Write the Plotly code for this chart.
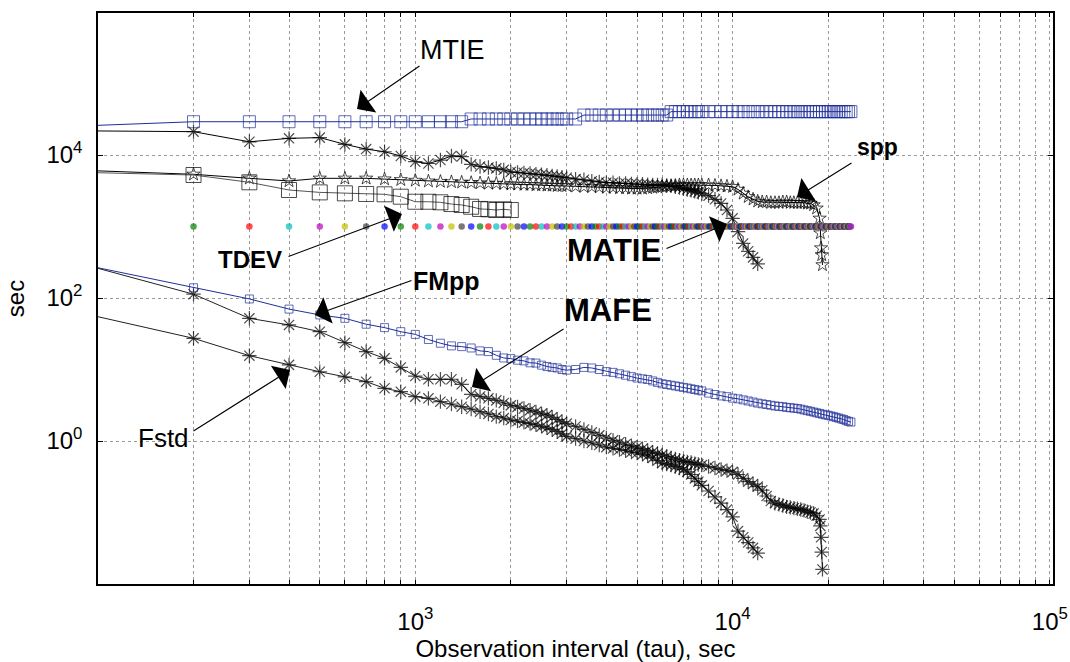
import plotly.graph_objects as go

# ---------------- data ----------------
tau = [100, 200, 300, 400, 500, 600, 700, 800, 900, 1000,
       1100, 1200, 1300, 1400, 1500, 1600, 1700, 1800, 1900, 2000,
       2100, 2200, 2300, 2400, 2500, 2600, 2700, 2800, 2900, 3000,
       3200, 3400, 3600, 3800, 4000, 4200, 4400, 4600, 4800, 5000,
       5200, 5400, 5600, 5800, 6000, 6200, 6400, 6600, 6800, 7000,
       7200, 7400, 7600, 7800, 8000,
       8400, 8800, 9200, 9600, 10000, 10400, 10800, 11200, 11600, 12000,
       12400, 12800, 13200, 13600, 14000, 14400, 14800, 15200, 15600, 16000,
       16400, 16800, 17200, 17600, 18000, 18400, 18800, 19200, 19600, 20000,
       20400, 20800, 21200, 21600, 22000, 22400, 22800, 23200, 23600]

mtie = [2.6e4, 2.92e4, 2.92e4, 2.92e4, 2.92e4, 2.92e4, 2.92e4, 2.92e4, 2.92e4, 2.92e4,
        2.92e4, 2.92e4, 2.92e4, 2.92e4, 3.19e4, 3.19e4, 3.19e4, 3.19e4, 3.19e4, 3.19e4,
        3.19e4, 3.19e4, 3.19e4, 3.19e4, 3.19e4, 3.19e4, 3.19e4, 3.19e4, 3.19e4, 3.19e4,
        3.19e4, 3.62e4, 3.62e4, 3.62e4, 3.62e4, 3.62e4, 3.62e4, 3.62e4, 3.62e4, 3.62e4,
        3.62e4, 3.62e4, 3.62e4, 3.62e4, 3.62e4, 3.62e4, 4.04e4, 4.04e4, 4.04e4, 4.04e4,
        4.04e4, 4.04e4, 4.04e4, 4.04e4, 4.04e4,
        4.04e4, 4.04e4, 4.04e4, 4.04e4, 4.04e4, 4.04e4, 4.04e4, 4.04e4, 4.04e4, 4.04e4,
        4.04e4, 4.04e4, 4.04e4, 4.04e4, 4.04e4, 4.04e4, 4.04e4, 4.04e4, 4.04e4, 4.04e4,
        4.04e4, 4.04e4, 4.04e4, 4.04e4, 4.04e4, 4.04e4, 4.04e4, 4.04e4, 4.04e4, 4.04e4,
        4.04e4, 4.04e4, 4.04e4, 4.04e4, 4.04e4, 4.04e4, 4.04e4, 4.04e4, 4.04e4]

upper_ast = [2.17e4, 2.12e4, 1.53e4, 1.71e4, 1.75e4, 1.41e4, 1.21e4, 1.11e4, 9.7e3, 8.06e3,
             7.6e3, 8.5e3, 9.7e3, 9.5e3, 7.4e3, 6.9e3, 6.7e3, 6.5e3, 6.2e3, 5.8e3,
             5.7e3, 5.6e3, 5.5e3, 5.4e3, 5.3e3, 5.2e3, 5.1e3, 5.0e3, 4.9e3, 4.8e3,
             4.6e3, 4.5e3, 4.3e3, 4.2e3, 4.1e3, 4.1e3, 4.0e3, 4.0e3, 3.95e3, 3.9e3,
             3.9e3, 3.85e3, 3.8e3, 3.8e3, 3.8e3, 3.75e3, 3.7e3, 3.6e3, 3.5e3, 3.4e3,
             3.3e3, 3.2e3, 3.1e3, 3.0e3, 2.9e3,
             2.7e3, 2.4e3, 2.1e3, 1.7e3, 1.3e3, 850, 580, 450, 370, 300]

spp = [6.0e3, 5.37e3, 4.72e3, 4.33e3, 4.72e3, 4.72e3, 4.72e3, 4.6e3, 4.5e3, 4.4e3,
       4.3e3, 4.25e3, 4.2e3, 4.15e3, 4.1e3, 4.05e3, 4.0e3, 4.0e3, 3.95e3, 3.9e3,
       3.9e3, 3.85e3, 3.85e3, 3.8e3, 3.8e3, 3.75e3, 3.75e3, 3.7e3, 3.7e3, 3.7e3,
       3.65e3, 3.6e3, 3.6e3, 3.55e3, 3.5e3, 3.5e3, 3.45e3, 3.45e3, 3.4e3, 3.4e3,
       3.4e3, 3.45e3, 3.5e3, 3.55e3, 3.6e3, 3.65e3, 3.7e3, 3.75e3, 3.8e3, 3.8e3,
       3.8e3, 3.8e3, 3.8e3, 3.8e3, 3.8e3,
       3.8e3, 3.75e3, 3.7e3, 3.65e3, 3.6e3, 3.3e3, 2.9e3, 2.6e3, 2.4e3, 2.25e3,
       2.2e3, 2.2e3, 2.15e3, 2.15e3, 2.15e3, 2.2e3, 2.2e3, 2.15e3, 2.15e3, 2.15e3,
       2.15e3, 2.15e3, 2.1e3, 2.1e3, 2.0e3, 1.8e3, 1.3e3]
tail_tau = [18900, 19000, 19100, 19200]
spp_tail = [810, 500, 400, 290]

tdev = [5.65e3, 5.25e3, 4.15e3, 3.24e3, 3.0e3, 2.91e3, 2.85e3, 2.82e3, 2.61e3, 2.22e3,
        2.22e3, 2.18e3, 2.06e3, 2.0e3, 1.89e3, 1.76e3, 1.74e3, 1.7e3, 1.74e3, 1.7e3]

fmpp = [265, 139, 97, 70, 58, 52, 43, 38.5, 33.8, 31,
        26.3, 23.3, 21.4, 20.9, 20.0, 18.2, 17.8, 15.8, 14.5, 14.2,
        13.5, 13.2, 12.4, 12.3, 11.5, 11.0, 10.7, 10.5, 10.0, 9.8,
        10.0, 10.7, 10.5, 10.0, 9.33, 9.12, 8.71, 8.32, 7.94, 7.59,
        7.41, 7.24, 6.92, 6.61, 6.31, 6.17, 6.03, 5.89, 5.75, 5.62,
        5.50, 5.37, 5.25, 5.13, 5.01,
        4.68, 4.47, 4.27, 4.17, 3.98, 3.89, 3.76, 3.63, 3.51, 3.39,
        3.31, 3.24, 3.16, 3.09, 3.05, 3.02, 2.95, 2.92, 2.88, 2.85,
        2.79, 2.72, 2.66, 2.60, 2.54, 2.48, 2.43, 2.37, 2.32, 2.29,
        2.24, 2.19, 2.14, 2.09, 2.04, 2.00, 1.93, 1.88, 1.84]

mafe = [260, 113, 52, 42, 33.8, 23.7, 17.8, 14.3, 10.7, 8.1,
        7.3, 7.3, 7.3, 6.2, 4.5, 4.2, 3.95, 3.7, 3.4, 3.15,
        3.0, 2.85, 2.7, 2.55, 2.4, 2.3, 2.15, 2.0, 1.85, 1.75,
        1.6, 1.45, 1.32, 1.2, 1.1, 1.02, 0.96, 0.9, 0.86, 0.82,
        0.78, 0.74, 0.7, 0.67, 0.64, 0.61, 0.58, 0.56, 0.54, 0.52,
        0.51, 0.5, 0.48, 0.47, 0.46,
        0.44, 0.42, 0.4, 0.385, 0.37, 0.34, 0.3, 0.27, 0.25, 0.23,
        0.205, 0.17, 0.145, 0.135, 0.13, 0.125, 0.12, 0.118, 0.115, 0.113,
        0.11, 0.107, 0.103, 0.1, 0.097, 0.09, 0.08]
mafe_tail = [0.065, 0.045, 0.028, 0.016]

fstd = [54.7, 27.3, 15.6, 11.6, 9.3, 7.9, 6.76, 5.46, 4.9, 4.17,
        3.95, 3.55, 3.29, 3.02, 2.8, 2.57, 2.39, 2.19, 2.09, 1.97,
        1.9, 1.82, 1.75, 1.68, 1.6, 1.53, 1.45, 1.36, 1.26, 1.16,
        1.08, 1.0, 0.94, 0.88, 0.82, 0.79, 0.76, 0.73, 0.7, 0.68,
        0.65, 0.62, 0.58, 0.53, 0.49, 0.475, 0.46, 0.44, 0.42, 0.40,
        0.37, 0.34, 0.30, 0.27, 0.24,
        0.20, 0.165, 0.135, 0.11, 0.087, 0.055, 0.045, 0.038, 0.032, 0.027]

matie_tau = list(range(100, 23700, 100))
matie_level = 1000.0

x_tick_labels = {1e3: "10<sup>3</sup>", 1e4: "10<sup>4</sup>", 1e5: "10<sup>5</sup>"}
y_tick_labels = {1.0: "10<sup>0</sup>", 1e2: "10<sup>2</sup>", 1e4: "10<sup>4</sup>"}

# ---------------- layout geometry ----------------
W, H = 1070, 662
PL, PR, PT, PB = 98, 1053, 13, 584          # pixels of the plot area
XR = [2.0, 5.0098]
YR = [-2.0, 5.986]
FONT = "Liberation Sans, Arial, sans-serif"


def px_x(px):
    return XR[0] + (px - PL) / (PR - PL) * (XR[1] - XR[0])


def px_y(py):
    return YR[1] - (py - PT) / (PB - PT) * (YR[1] - YR[0])


def sizes(xs, s):
    return [0 if t <= 100 else s for t in xs]


fig = go.Figure()

BLUE = "#1f2f9a"
ast = dict(symbol="asterisk-open", color="black", line=dict(color="black", width=1.2))
star = dict(symbol="star-open", color="black", line=dict(color="black", width=1))

# lower black asterisk series
x_fstd = tau[:len(fstd)]
fig.add_trace(go.Scatter(x=x_fstd, y=fstd, mode="lines+markers",
                         line=dict(color="#222222", width=1),
                         marker=dict(size=sizes(x_fstd, 12), **ast)))
x_mafe = tau[:len(mafe)] + tail_tau
fig.add_trace(go.Scatter(x=x_mafe, y=mafe + mafe_tail, mode="lines+markers",
                         line=dict(color="#222222", width=1),
                         marker=dict(size=sizes(x_mafe, 12), **ast)))
# FMpp
fig.add_trace(go.Scatter(x=tau[:len(fmpp)], y=fmpp, mode="lines+markers",
                         line=dict(color=BLUE, width=1),
                         marker=dict(symbol="square-open", size=sizes(tau, 8),
                                     color=BLUE, line=dict(color=BLUE, width=1))))
# upper black series
x_ast = tau[:len(upper_ast)]
fig.add_trace(go.Scatter(x=x_ast, y=upper_ast, mode="lines+markers",
                         line=dict(color="black", width=1),
                         marker=dict(size=sizes(x_ast, 12), **ast)))
x_spp = tau[:len(spp)] + tail_tau
fig.add_trace(go.Scatter(x=x_spp, y=spp + spp_tail, mode="lines+markers",
                         line=dict(color="black", width=1),
                         marker=dict(size=sizes(x_spp, 10), **star)))
x_tdev = tau[:len(tdev)]
fig.add_trace(go.Scatter(x=x_tdev, y=tdev, mode="lines+markers",
                         line=dict(color="#555555", width=1),
                         marker=dict(symbol="square-open", size=sizes(x_tdev, 15),
                                     color="black", line=dict(color="black", width=1))))
# MTIE
fig.add_trace(go.Scatter(x=tau[:len(mtie)], y=mtie, mode="lines+markers",
                         line=dict(color=BLUE, width=1),
                         marker=dict(symbol="square-open", size=sizes(tau, 12),
                                     color=BLUE, line=dict(color=BLUE, width=1))))
# MATIE coloured dots
cycle = ["#0000ff", "#008000", "#ff0000", "#00bfbf", "#bf00bf", "#bfbf00", "#404040"]
fig.add_trace(go.Scatter(x=matie_tau, y=[matie_level] * len(matie_tau), mode="markers",
                         marker=dict(symbol="circle", size=sizes(matie_tau, 6.5),
                                     color=[cycle[i % 7] for i in range(len(matie_tau))],
                                     line=dict(width=0))))

# ---------------- annotations ----------------
arrows = [  # (tail px, tip px)
    ((421, 65), (357, 109)),   # MTIE
    ((853, 162), (797, 197)),  # spp
    ((287, 257), (402, 214)),  # TDEV
    ((413, 280), (315, 315)),  # FMpp
    ((665, 249), (727, 224)),  # MATIE
    ((565, 328), (472, 387)),  # MAFE
    ((192, 432), (290, 370)),  # Fstd
]
for (tx, ty), (hx, hy) in arrows:
    fig.add_annotation(x=px_x(hx), y=px_y(hy), xref="x", yref="y",
                       ax=tx - hx, ay=ty - hy, axref="pixel", ayref="pixel",
                       text="", showarrow=True, arrowhead=1, arrowsize=4.2,
                       arrowwidth=1.1, arrowcolor="black", standoff=0)

labels = [  # text, center px, size, bold
    ("MTIE", (452, 50), 27, False),
    ("spp", (877, 147), 23, True),
    ("TDEV", (250, 259), 24, True),
    ("FMpp", (446, 281), 25, True),
    ("MATIE", (614, 250), 31, True),
    ("MAFE", (608, 310), 31, True),
    ("Fstd", (163, 438), 26, False),
]
for txt, (cx, cy), sz, bold in labels:
    fig.add_annotation(x=px_x(cx), y=px_y(cy), xref="x", yref="y",
                       text=f"<b>{txt}</b>" if bold else txt, showarrow=False,
                       font=dict(family=FONT, size=sz, color="black"),
                       xanchor="center", yanchor="middle")

# ---------------- axes ----------------
xvals = [k * 10 ** d for d in (2, 3, 4) for k in range(1, 10)][1:] + [1e5]
xtext = [x_tick_labels.get(float(v), "") for v in xvals]
yvals = list(y_tick_labels.keys())
ytext = list(y_tick_labels.values())

axis_common = dict(type="log", showline=True, linecolor="black", linewidth=1.5,
                   mirror="allticks", ticks="inside", tickcolor="black",
                   showgrid=True, gridcolor="#9a9a9a", griddash="dot", gridwidth=1,
                   zeroline=False, tickfont=dict(family=FONT, size=24, color="black"))

fig.update_xaxes(range=XR, tickmode="array", tickvals=xvals, ticktext=xtext,
                 ticklen=4, ticklabelstandoff=15, **axis_common,
                 title=dict(text="Observation interval (tau), sec",
                            font=dict(family=FONT, size=24, color="black"), standoff=9))
fig.update_yaxes(range=YR, tickmode="array", tickvals=yvals, ticktext=ytext,
                 ticklen=5, ticklabelstandoff=9, **axis_common,
                 title=dict(text="sec", font=dict(family=FONT, size=24, color="black"),
                            standoff=15))

fig.update_layout(width=W, height=H, showlegend=False,
                  margin=dict(l=PL, r=W - PR, t=PT, b=H - PB, autoexpand=False),
                  plot_bgcolor="white", paper_bgcolor="white",
                  font=dict(family=FONT, color="black"))

fig.write_html("out.html", config={"displayModeBar": False},
               post_script="document.body.style.margin='0';"
                           "document.body.style.overflow='hidden';")
